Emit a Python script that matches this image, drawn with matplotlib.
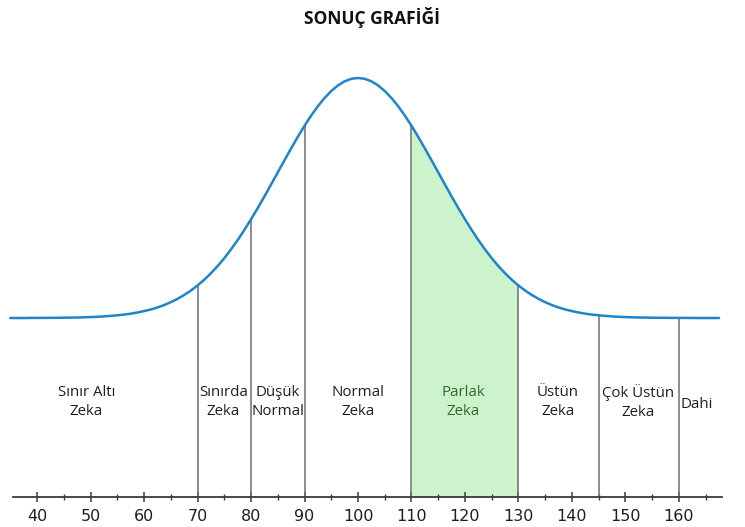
import matplotlib.pyplot as plt
import numpy as np
from matplotlib.ticker import FixedLocator

# Curve: IQ positions and height above the flat tail (px / 100)
iq = np.arange(35, 168.75, 1.25)
height = [
    0.000, 0.000, 0.000, 0.001, 0.001, 0.001, 0.002, 0.002, 0.003, 0.004,
    0.005, 0.007, 0.009, 0.012, 0.016, 0.021, 0.027, 0.034, 0.043, 0.055,
    0.069, 0.085, 0.105, 0.129, 0.158, 0.191, 0.230, 0.274, 0.325, 0.382,
    0.447, 0.519, 0.598, 0.685, 0.779, 0.880, 0.987, 1.099, 1.215, 1.335,
    1.456, 1.577, 1.696, 1.812, 1.922, 2.025, 2.118, 2.200, 2.270, 2.326,
    2.367, 2.392, 2.400,
    2.392, 2.367, 2.326, 2.270, 2.200, 2.118, 2.025, 1.922, 1.812, 1.696,
    1.577, 1.456, 1.335, 1.215, 1.099, 0.987, 0.880, 0.779, 0.685, 0.598,
    0.519, 0.447, 0.382, 0.325, 0.274, 0.230, 0.191, 0.158, 0.129, 0.105,
    0.085, 0.069, 0.055, 0.043, 0.034, 0.027, 0.021, 0.016, 0.012, 0.009,
    0.007, 0.005, 0.004, 0.003, 0.002, 0.002, 0.001, 0.001, 0.001, 0.000,
    0.000, 0.000, 0.000, 0.000,
]
tail = 1.79  # flat tail level above the axis

bounds = [70, 80, 90, 110, 130, 145, 160]
highlight = (110, 130)

major_ticks = list(range(40, 161, 10))
minor_ticks = list(range(45, 166, 10))

labels = ["Sınır Altı\nZeka", "Sınırda\nZeka", "Düşük\nNormal", "Normal\nZeka",
          "Parlak\nZeka", "Üstün\nZeka", "Çok Üstün\nZeka", "Dahi"]
label_x = [49.2, 74.8, 85.0, 100.0, 119.6, 137.3, 152.4, 163.4]
label_y = [0.95, 0.95, 0.95, 0.95, 0.95, 0.95, 0.95, 0.92]

curve = tail + np.array(height)

fig = plt.figure(figsize=(7.45, 5.27), dpi=100)
ax = fig.add_axes([0, 0, 1, 1])
ax.set_xlim(33.08, 172.34)
ax.set_ylim(-0.30, 4.97)

# green band under the curve
sel = (iq >= highlight[0]) & (iq <= highlight[1])
ax.fill_between(iq[sel], 0, curve[sel], color="#cdf3cd", lw=0, zorder=1)

# separators from axis up to the curve
for b in bounds:
    top = curve[np.argmin(np.abs(iq - b))]
    ax.plot([b, b], [0, top], color="#6e6e6e", lw=1.1, zorder=2)

ax.plot(iq, curve, color="#1f84c9", lw=1.8, zorder=3, solid_capstyle="round")

for x, y, t in zip(label_x, label_y, labels):
    col = "#2f6a32" if t.startswith("Parlak") else "#1e1e1e"
    ax.text(x, y, t, ha="center", va="center", fontsize=10.8,
            family="Open Sans", color=col, linespacing=1.3)

ax.text(0.5, 1 - 18 / 527, "SONUÇ GRAFİĞİ", transform=ax.transAxes,
        ha="center", va="center", fontsize=12.5, fontweight="bold",
        family="Open Sans", color="#111111")

# bottom axis
for s in ["top", "right", "left"]:
    ax.spines[s].set_visible(False)
ax.spines["bottom"].set_position(("data", 0))
ax.spines["bottom"].set_bounds(35.5, 168)
ax.spines["bottom"].set_color("#3a3a3a")
ax.spines["bottom"].set_linewidth(1.3)
ax.spines["bottom"].set_zorder(4)
ax.set_yticks([])
ax.set_xticks(major_ticks)
ax.xaxis.set_minor_locator(FixedLocator(minor_ticks))
ax.tick_params(axis="x", which="major", direction="inout", length=7,
               width=1.1, color="#3a3a3a", pad=5, labelsize=11.5,
               labelcolor="#1e1e1e")
ax.tick_params(axis="x", which="minor", direction="inout", length=4,
               width=1.0, color="#3a3a3a")
for lab in ax.get_xticklabels():
    lab.set_family("Liberation Sans Narrow")

fig.savefig("out.png", dpi=100)
